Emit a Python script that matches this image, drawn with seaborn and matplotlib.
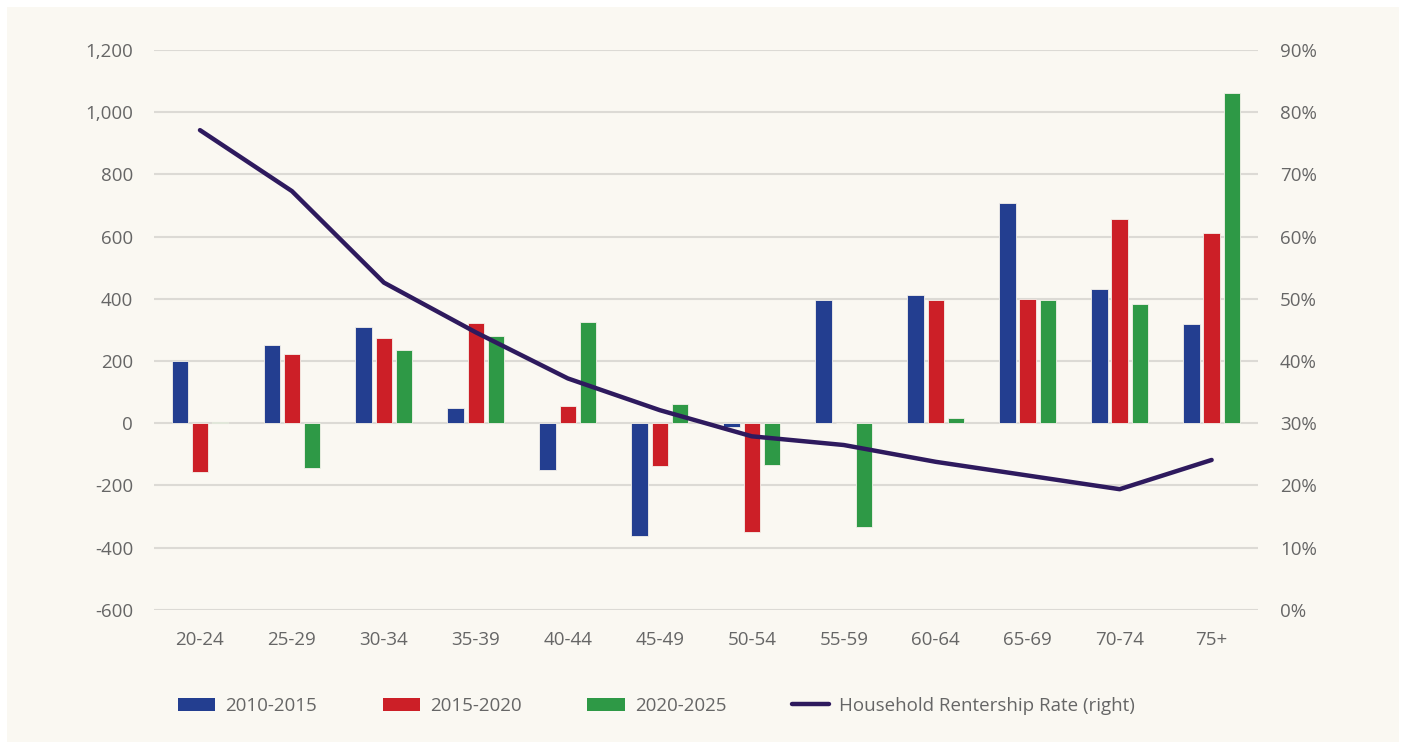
import numpy as np
import pandas as pd
import matplotlib
matplotlib.use("Agg")
import matplotlib.pyplot as plt
from matplotlib.patches import Rectangle
from matplotlib.lines import Line2D
from matplotlib.ticker import FuncFormatter
import seaborn as sns

# -----------------------------
# Data
# -----------------------------
ages = ["20-24", "25-29", "30-34", "35-39", "40-44", "45-49",
        "50-54", "55-59", "60-64", "65-69", "70-74", "75+"]
periods = ["2010-2015", "2015-2020", "2020-2025"]

chg_2010_2015 = [200, 250, 310, 48, -151, -364, -13, 395, 413, 708, 432, 320]
chg_2015_2020 = [-157, 224, 274, 322, 55, -138, -350, 2, 395, 400, 657, 612]
chg_2020_2025 = [3, -145, 236, 280, 325, 61, -133, -332, 17, 395, 382, 1062]

renter_rate = [77.1, 67.3, 52.6, 44.6, 37.2, 32.1, 27.9, 26.5, 23.8, 21.6, 19.4, 24.1]

bar_colors = ["#233e90", "#cc1f27", "#2e9946"]
line_color = "#2e1a5e"
text_color = "#666666"
grid_color = "#dcdad5"
cream = "#faf8f2"
fsize = 13.5

# -----------------------------
# Long-form table for seaborn
# -----------------------------
df = pd.DataFrame({
    "Age": ages * 3,
    "Period": np.repeat(periods, len(ages)),
    "Change": chg_2010_2015 + chg_2015_2020 + chg_2020_2025,
})
rate_df = pd.DataFrame({"Age": ages, "Rate": renter_rate})

sns.set_theme(style="white")
plt.rcParams["font.family"] = ["Open Sans", "DejaVu Sans"]

fig = plt.figure(figsize=(14.05, 7.42), dpi=100, facecolor="white")
fig.add_artist(Rectangle((7 / 1405, 0), 1392 / 1405, 735 / 742,
                         transform=fig.transFigure, facecolor=cream,
                         edgecolor="none", zorder=-10))
ax = fig.add_axes([0.1096, 0.178, 0.7855, 0.7548])
ax.set_facecolor("none")

sns.barplot(data=df, x="Age", y="Change", hue="Period", order=ages,
            hue_order=periods, palette=bar_colors, saturation=1,
            width=0.66, gap=0.19, edgecolor="#f4f1ea", linewidth=0.6,
            errorbar=None, ax=ax, legend=False, zorder=3)

ax.set_ylim(-600, 1200)
ax.set_yticks(np.arange(-600, 1201, 200))
ax.yaxis.set_major_formatter(FuncFormatter(lambda v, p: f"{int(v):,}"))
ax.set_xlim(-0.5, len(ages) - 0.5)
ax.grid(axis="y", color=grid_color, linewidth=1.5, zorder=0)
ax.set_axisbelow(True)
ax.set_xlabel("")
ax.set_ylabel("")
sns.despine(ax=ax, left=True, bottom=True)
ax.tick_params(axis="both", length=0, labelsize=fsize, labelcolor=text_color)
ax.tick_params(axis="y", pad=15)
ax.tick_params(axis="x", pad=15)

# Rentership rate on right axis
ax2 = ax.twinx()
sns.lineplot(data=rate_df, x="Age", y="Rate", sort=False, color=line_color,
             linewidth=3.2, ax=ax2, zorder=5)
ax2.set_ylim(0, 90)
ax2.set_yticks(np.arange(0, 91, 10))
ax2.yaxis.set_major_formatter(FuncFormatter(lambda v, p: f"{int(v)}%"))
ax2.set_ylabel("")
ax2.set_xlabel("")
sns.despine(ax=ax2, left=True, bottom=True, right=True)
ax2.tick_params(axis="y", length=0, labelsize=fsize, labelcolor=text_color, pad=16)

# Legend
handles = [Rectangle((0, 0), 1, 1, facecolor=c, edgecolor="none") for c in bar_colors]
handles.append(Line2D([0], [0], color=line_color, linewidth=3.2))
labels = periods + ["Household Rentership Rate (right)"]
fig.legend(handles, labels, loc="center left", bbox_to_anchor=(0.1146, 0.049), ncol=4,
           frameon=False, fontsize=fsize, labelcolor=text_color,
           handlelength=2.0, handleheight=0.7, handletextpad=0.53,
           columnspacing=3.5)

fig.savefig("out.png", dpi=100, facecolor="white")
